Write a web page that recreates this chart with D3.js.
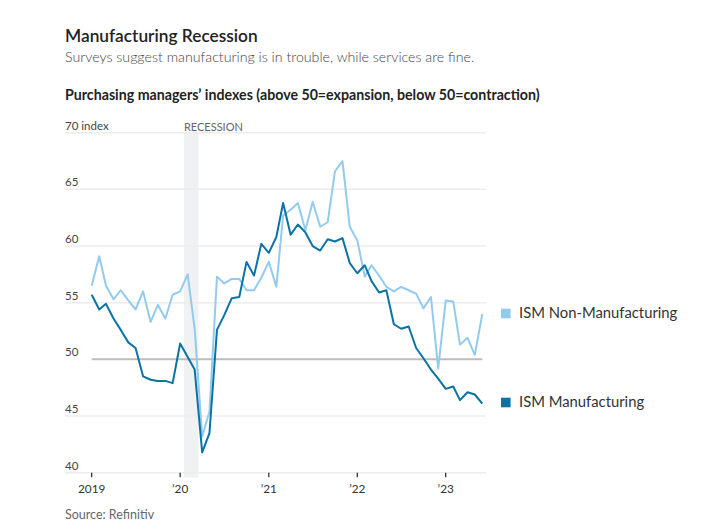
<!DOCTYPE html>
<html><head><meta charset="utf-8">
<script src="https://cdn.jsdelivr.net/npm/d3@7"></script>
<style>
html,body{margin:0;padding:0;background:#fff;}
svg{display:block;font-family:Lato,"Noto Sans",sans-serif;}
</style></head>
<body><svg id="chart" width="702" height="531"></svg>
<script>
// ---- data ----
const startMonth = "2019-01";
const manufacturing = [
  55.7,54.4,54.9,53.6,52.6,51.5,51.0,48.5,48.2,48.1,48.1,47.9,
  51.4,50.2,49.1,41.8,43.5,52.6,53.9,55.4,55.5,58.6,57.4,60.2,
  59.4,60.8,63.8,61.0,61.9,61.2,60.0,59.6,60.6,60.4,60.7,58.5,
  57.6,58.3,56.9,55.9,56.1,53.1,52.7,52.9,51.0,50.1,49.1,48.3,
  47.4,47.6,46.4,47.1,46.9,46.1
];
const nonManufacturing = [
  56.5,59.1,56.5,55.3,56.1,55.2,54.4,56.0,53.3,54.8,53.6,55.7,
  56.0,57.5,52.7,43.2,45.4,57.3,56.7,57.1,57.1,56.1,56.1,57.2,
  58.6,56.4,62.7,63.2,63.8,61.4,63.9,61.7,62.1,66.6,67.5,61.7,
  60.5,57.3,58.3,57.4,56.4,56.0,56.4,56.1,55.8,54.5,55.5,49.2,
  55.2,55.1,51.3,51.9,50.4,54.0
];
const seriesNames = ["ISM Non-Manufacturing","ISM Manufacturing"];
const yTicks = [40,45,50,55,60,65,70];
const xTickYears = [2019,2020,2021,2022,2023];
const xTickLabels = ["2019","\u201920","\u201921","\u201922","\u201923"];
const recession = ["2020-02","2020-04"];
const title = "Manufacturing Recession";
const subtitle = "Surveys suggest manufacturing is in trouble, while services are fine.";
const chartTitle = "Purchasing managers\u2019 indexes (above 50=expansion, below 50=contraction)";
const source = "Source: Refinitiv";

// ---- layout ----
const svg = d3.select("#chart");
const parseMonth = d3.timeParse("%Y-%m");
const t0 = parseMonth(startMonth);
const dates = manufacturing.map((_, i) => d3.timeMonth.offset(t0, i));
const x = d3.scaleTime().domain([dates[0], dates[dates.length-1]]).range([91.7, 482.3]);
const y = d3.scaleLinear().domain([40,70]).range([472.7,132.7]);
const gridLeft = 65, gridRight = 486;
const cDark = "#0a73a6", cLight = "#93cbee", txt = "#333";

svg.append("text").attr("x",65).attr("y",42).attr("fill","#222")
  .attr("font-size",17.3).attr("font-weight",600).text(title);
svg.append("text").attr("x",65).attr("y",62).attr("fill","#444")
  .attr("font-size",14.2).attr("font-weight",300).text(subtitle);
svg.append("text").attr("x",65).attr("y",100).attr("fill","#222")
  .attr("font-size",14.2).attr("font-weight",700).text(chartTitle);

// recession shade
const halfMonth = (x(dates[1]) - x(dates[0])) / 2;
const r0 = x(parseMonth(recession[0])) - halfMonth, r1 = x(parseMonth(recession[1])) - halfMonth;
svg.append("rect").attr("x",r0).attr("y",y(70)).attr("width",r1-r0).attr("height",y(40)-y(70)+5)
  .attr("fill","#f0f1f3");
svg.append("text").attr("x",r0).attr("y",y(70)-2).attr("fill","#666").attr("font-size",11)
  .text("RECESSION");

// gridlines
svg.append("g").selectAll("line").data(yTicks.filter(v=>v!==50)).join("line")
  .attr("x1",gridLeft).attr("x2",gridRight).attr("y1",d=>y(d)).attr("y2",d=>y(d))
  .attr("stroke","#ececec").attr("stroke-width",1.5);
svg.append("line").attr("x1",x(dates[0])).attr("x2",x(dates[dates.length-1]))
  .attr("y1",y(50)).attr("y2",y(50)).attr("stroke","#bcbcbc").attr("stroke-width",2);
svg.append("g").selectAll("text").data(yTicks).join("text")
  .attr("x",gridLeft).attr("y",d=>y(d)-3).attr("fill","#444").attr("font-size",11.5)
  .text(d => d===70 ? "70 index" : d);

// x axis ticks
const xt = xTickYears.map(yr => new Date(yr,0,1));
svg.append("g").selectAll("line").data(xt).join("line")
  .attr("x1",d=>x(d)).attr("x2",d=>x(d)).attr("y1",y(40)).attr("y2",y(40)+4.5)
  .attr("stroke","#222").attr("stroke-width",1.2);
svg.append("g").selectAll("text").data(xt).join("text")
  .attr("x",d=>x(d)).attr("y",493).attr("text-anchor","middle").attr("fill",txt)
  .attr("font-size",11.8).text((d,i)=>xTickLabels[i]);

// lines
const line = d3.line().x((d,i)=>x(dates[i])).y(d=>y(d));
svg.append("path").datum(nonManufacturing).attr("d",line).attr("fill","none")
  .attr("stroke",cLight).attr("stroke-width",2).attr("stroke-linejoin","round");
svg.append("path").datum(manufacturing).attr("d",line).attr("fill","none")
  .attr("stroke",cDark).attr("stroke-width",2).attr("stroke-linejoin","round");

// legend
const legY = [313.5, 402.5];
const legColors = [cLight, cDark];
seriesNames.forEach((n,i) => {
  svg.append("rect").attr("x",501).attr("y",legY[i]-4.8).attr("width",9.6).attr("height",9.6)
    .attr("fill",legColors[i]);
  svg.append("text").attr("x",519).attr("y",legY[i]+4).attr("fill",txt)
    .attr("font-size",14.8).text(n);
});

svg.append("text").attr("x",65).attr("y",519).attr("fill","#666").attr("font-size",12.5)
  .text(source);
</script>
</body></html>
